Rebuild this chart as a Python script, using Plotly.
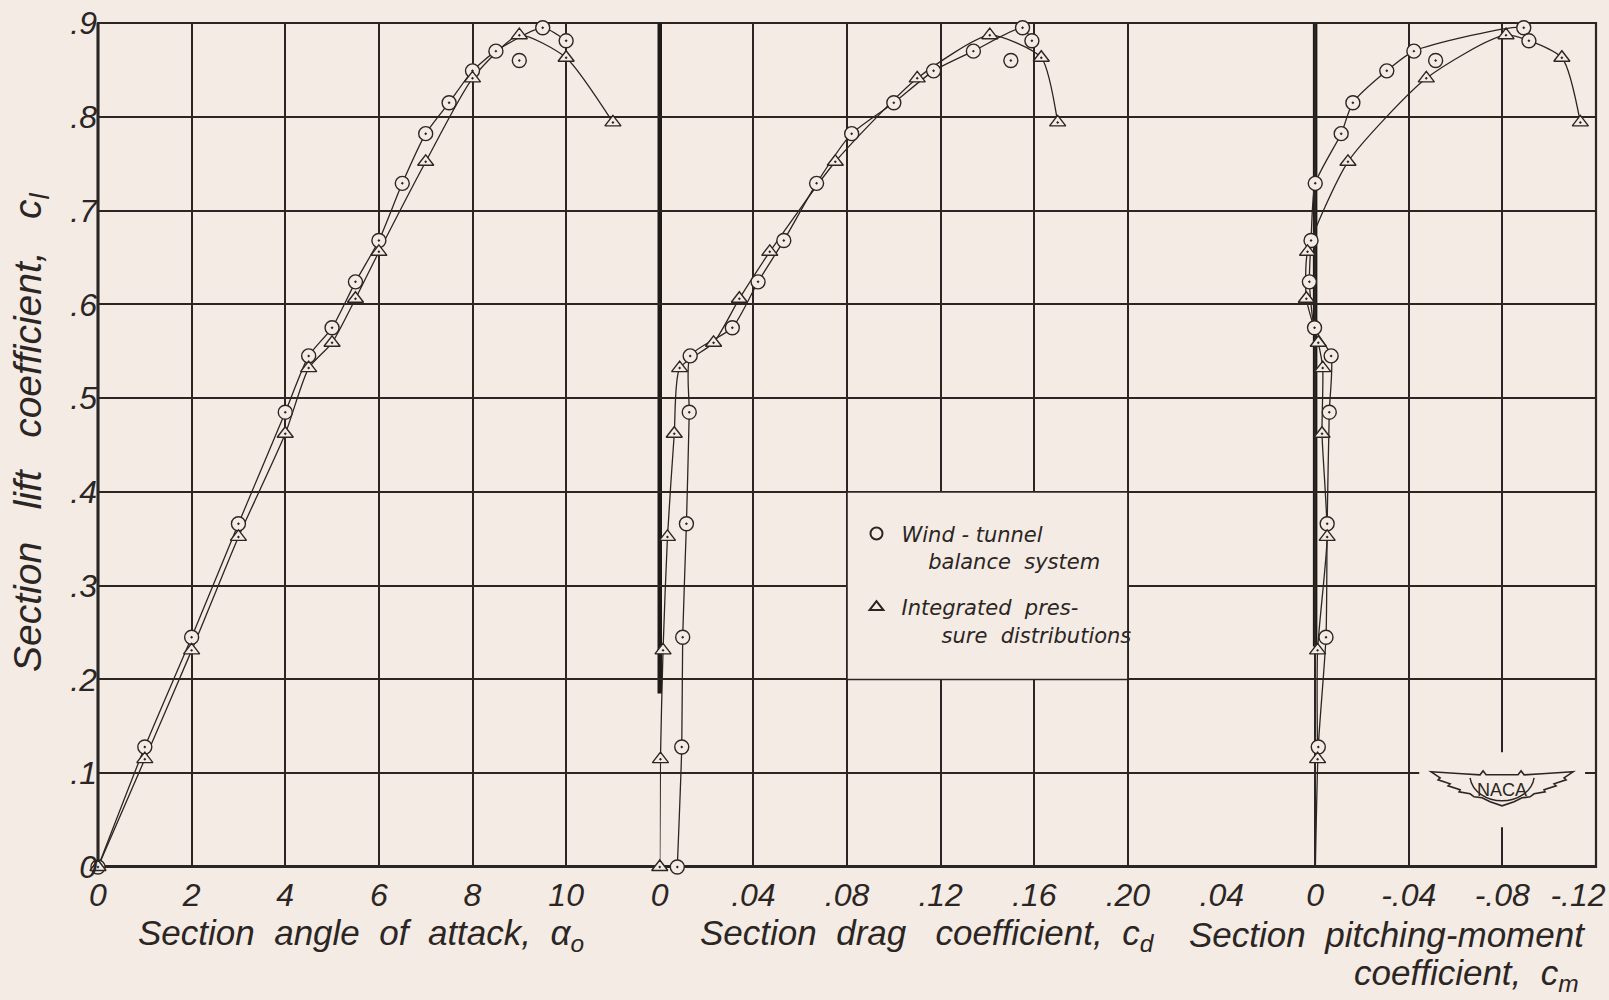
import plotly.graph_objects as go

# ---------------- data ----------------
# Wind-tunnel balance system (circles)
alpha_bal = [0, 1, 2, 3, 4, 4.5, 5, 5.5, 6, 6.5, 7, 7.5, 8, 8.5, 9, 9.5, 10]
cl_bal = [0.0, 0.128, 0.245, 0.366, 0.485, 0.545, 0.575, 0.624, 0.668, 0.729,
          0.782, 0.815, 0.849, 0.870, 0.860, 0.895, 0.881]
cd_bal = [0.0075, 0.0094, 0.0098, 0.0114, 0.0126, 0.0130, 0.031, 0.042, 0.053,
          0.067, 0.082, 0.100, 0.117, 0.134, 0.150, 0.155, 0.159]
cl_bal_cm = [-0.009, 0.128, 0.245, 0.366, 0.485, 0.545, 0.575, 0.624, 0.668, 0.729,
             0.782, 0.815, 0.849, 0.870, 0.860, 0.895, 0.881]
cm_bal = [0.0, -0.0013, -0.0046, -0.0051, -0.0060, -0.0068, 0.0003, 0.0025, 0.0018,
          0.0, -0.0111, -0.0161, -0.0306, -0.0422, -0.0515, -0.0892, -0.0914]
bal_unfaired_alpha = [9]          # point left off the faired curve

# Integrated pressure distributions (triangles)
alpha_prs = [0, 1, 2, 3, 4, 4.5, 5, 5.5, 6, 7, 8, 9, 10, 11]
cl_prs = [0.0, 0.115, 0.231, 0.352, 0.462, 0.532, 0.559, 0.606, 0.656, 0.752,
          0.841, 0.887, 0.863, 0.794]
cd_prs = [0.0, 0.0003, 0.0014, 0.0033, 0.0062, 0.0085, 0.023, 0.034, 0.047, 0.075,
          0.110, 0.141, 0.163, 0.170]
cm_prs = [None, -0.001, -0.001, -0.0051, -0.0029, -0.0032, -0.0013, 0.0038, 0.0033,
          -0.014, -0.0475, -0.0816, -0.1055, -0.1134]

# axis ticks
alpha_ticks = [0, 2, 4, 6, 8, 10, 12]
alpha_labels = ["0", "2", "4", "6", "8", "10", ""]
cd_ticks = [0, 0.04, 0.08, 0.12, 0.16, 0.20, 0.24]
cd_labels = ["0", ".04", ".08", ".12", ".16", ".20", ""]
cm_ticks = [0.04, 0, -0.04, -0.08, -0.12]
cm_labels = [".04", "0", "-.04", "-.08", "-.12&nbsp;&nbsp;&nbsp;&nbsp;"]
cl_ticks = [0, 0.1, 0.2, 0.3, 0.4, 0.5, 0.6, 0.7, 0.8, 0.9]
cl_labels = ["0", ".1", ".2", ".3", ".4", ".5", ".6", ".7", ".8", ".9"]

# heavy reference lines (paper x of panel edge, lower cl end)
heavy_lines = [(6 / 16, 0.185), (13 / 16, 0.235)]
# legend panel (drag-axis cells, lift range)
legend_cell = dict(x0=0.08, x1=0.20, y0=0.2, y1=0.4)

# ---------------- styling ----------------
PAPER = "#f4ebe4"
INK = "#2b2623"
FONT = "Liberation Sans"
LFONT = "DejaVu Sans"

fig = go.Figure()


def faired(xs, ys, alphas, skip):
    px, py = [], []
    for x, y, a in zip(xs, ys, alphas):
        if x is None or a in skip:
            continue
        px.append(x)
        py.append(y)
    return px, py


panels = [
    ("x", "y", alpha_bal, alpha_prs, cl_bal, alpha_bal, cl_prs, alpha_prs),
    ("x2", "y2", cd_bal, cd_prs, cl_bal, alpha_bal, cl_prs, alpha_prs),
    ("x3", "y3", cm_bal, cm_prs, cl_bal_cm, alpha_bal, cl_prs, alpha_prs),
]

for xa, ya, xb, xp, yb, ab, yp, ap in panels:
    fx, fy = faired(xb, yb, ab, bal_unfaired_alpha)
    fig.add_trace(go.Scatter(x=fx, y=fy, xaxis=xa, yaxis=ya, mode="lines",
                             line=dict(color=INK, width=1.3, shape="spline", smoothing=0.6),
                             showlegend=False, hoverinfo="skip", cliponaxis=False))
    gx, gy = faired(xp, yp, ap, [])
    fig.add_trace(go.Scatter(x=gx, y=gy, xaxis=xa, yaxis=ya, mode="lines",
                             line=dict(color=INK, width=1.3, shape="spline", smoothing=0.6),
                             showlegend=False, hoverinfo="skip", cliponaxis=False))
    fig.add_trace(go.Scatter(x=xb, y=yb, xaxis=xa, yaxis=ya, mode="markers",
                             marker=dict(symbol="circle-dot", size=14, color=PAPER,
                                         line=dict(color=INK, width=1.4)),
                             showlegend=False, cliponaxis=False))
    fig.add_trace(go.Scatter(x=xp, y=yp, xaxis=xa, yaxis=ya, mode="markers",
                             marker=dict(symbol="triangle-up-dot", size=14, color=PAPER,
                                         line=dict(color=INK, width=1.4)),
                             showlegend=False, cliponaxis=False))

# legend entries
fig.add_trace(go.Scatter(x=[None], y=[None], mode="markers", legendgroup="a",
                         name="Wind - tunnel<br>&nbsp;&nbsp;&nbsp;&nbsp;balance&nbsp;&nbsp;system",
                         marker=dict(symbol="circle-open", size=12, color=INK, line=dict(width=1.5))))
fig.add_trace(go.Scatter(x=[None], y=[None], mode="markers", legendgroup="b",
                         name="Integrated&nbsp;&nbsp;pres-<br>&nbsp;&nbsp;&nbsp;&nbsp;&nbsp;&nbsp;sure&nbsp;&nbsp;distributions",
                         marker=dict(symbol="triangle-up-open", size=12, color=INK, line=dict(width=1.5))))

tickfont = dict(family=FONT, size=32, color=INK, style="italic")
xcommon = dict(showgrid=True, gridcolor=INK, gridwidth=1.5, zeroline=False,
               showline=False, ticks="", tickfont=tickfont, tickmode="array",
               ticklabelstandoff=6, ticklabeloverflow="allow", automargin=False)
ycommon = dict(range=[0, 0.9], showgrid=True, gridcolor=INK, gridwidth=1.7,
               zeroline=False, showline=False, ticks="", tickmode="array",
               tickvals=cl_ticks, automargin=False)

fig.update_layout(
    width=1609, height=1000, autosize=False,
    margin=dict(l=98, r=13, t=23, b=133, autoexpand=False),
    paper_bgcolor=PAPER, plot_bgcolor=PAPER,
    xaxis=dict(domain=[0, 6 / 16], range=[0, 12], tickvals=alpha_ticks,
               ticktext=alpha_labels, anchor="y", **xcommon),
    xaxis2=dict(domain=[6 / 16, 12 / 16], range=[0, 0.24], tickvals=cd_ticks,
                ticktext=cd_labels, anchor="y2", **xcommon),
    xaxis3=dict(domain=[12 / 16, 1], range=[0.0401, -0.1201], tickvals=cm_ticks,
                ticktext=cm_labels, anchor="y3", **xcommon),
    yaxis=dict(anchor="x", ticktext=cl_labels, tickfont=tickfont, **ycommon),
    yaxis2=dict(anchor="x2", matches="y", showticklabels=False, **ycommon),
    yaxis3=dict(anchor="x3", matches="y", showticklabels=False, **ycommon),
    legend=dict(x=0.503, y=0.419, xanchor="left", yanchor="top",
                bgcolor="rgba(0,0,0,0)", borderwidth=0, valign="top",
                font=dict(family=LFONT, size=21, color=INK, style="italic"),
                itemsizing="constant", tracegroupgap=16, itemwidth=40),
    showlegend=True,
)

shapes = []
# outer frame
shapes.append(dict(type="rect", xref="paper", yref="paper", x0=0, x1=1, y0=0, y1=1,
                   line=dict(color=INK, width=2.2), layer="below"))
shapes.append(dict(type="line", xref="paper", yref="paper", x0=0, x1=0, y0=0, y1=1,
                   line=dict(color=INK, width=3), layer="below"))
# heavy zero-lift baseline
shapes.append(dict(type="line", xref="paper", yref="y", x0=0, x1=1, y0=0, y1=0,
                   line=dict(color=INK, width=4), layer="below"))
for xp_, ylo in heavy_lines:
    shapes.append(dict(type="line", xref="paper", yref="y", x0=xp_, x1=xp_, y0=ylo, y1=0.9,
                       line=dict(color="#1e1a18", width=4.5), layer="below"))
# blank panel holding the legend (interior grid lines removed)
shapes.append(dict(type="rect", xref="x2", yref="y2", line=dict(color=INK, width=1.6),
                   fillcolor=PAPER, layer="above", **legend_cell))
# blank patch behind NACA emblem
shapes.append(dict(type="rect", xref="paper", yref="paper", x0=0.882, x1=0.9927,
                   y0=0.047, y1=0.136, line=dict(width=0), fillcolor=PAPER, layer="above"))
# NACA wings emblem
wing = ("M -71,15 L -40,13 L -22,12 L -19,16 L -16,12 L 16,12 L 19,16 L 22,12 L 40,13 L 71,15 "
        "L 62,9 L 64,7 L 52,3 L 54,1 L 42,-3 L 43,-5 L 32,-7 L 28,-10 L 20,-11 L 12,-15 L 0,-19 "
        "L -12,-15 L -20,-11 L -28,-10 L -32,-7 L -43,-5 L -42,-3 L -54,1 L -52,3 L -64,7 L -62,9 Z")
shapes.append(dict(type="path", xref="paper", yref="paper", xsizemode="pixel", ysizemode="pixel",
                   xanchor=0.9373, yanchor=0.095, path=wing,
                   line=dict(color=INK, width=1.6), fillcolor=PAPER, layer="above"))
shapes.append(dict(type="path", xref="paper", yref="paper", xsizemode="pixel", ysizemode="pixel",
                   xanchor=0.9373, yanchor=0.095,
                   path="M -32,9 C -30,-5 -15,-14 0,-14 C 15,-14 30,-5 32,9",
                   line=dict(color=INK, width=1.4), layer="above"))
fig.update_layout(shapes=shapes)

title_font = dict(family=FONT, size=35, color=INK, style="italic")
ann = [
    dict(text="Section&nbsp; angle&nbsp; of&nbsp; attack,&nbsp; α<sub>o</sub>", x=0.1755, y=-0.08,
         xanchor="center", yanchor="middle"),
    dict(text="Section&nbsp; drag&nbsp;&nbsp; coefficient,&nbsp; c<sub>d</sub>", x=0.554, y=-0.08,
         xanchor="center", yanchor="middle"),
    dict(text="Section&nbsp; pitching-moment", x=0.994, y=-0.08, xanchor="right", yanchor="middle"),
    dict(text="coefficient,&nbsp; c<sub>m</sub>", x=0.99, y=-0.128, xanchor="right", yanchor="middle"),
]
annotations = []
for a in ann:
    a.update(xref="paper", yref="paper", showarrow=False, font=title_font)
    annotations.append(a)
annotations.append(dict(text="Section&nbsp;&nbsp; lift&nbsp;&nbsp; coefficient,&nbsp;&nbsp; c<sub>l</sub>",
                        x=-0.045, y=0.515, xref="paper", yref="paper", textangle=-90,
                        showarrow=False, xanchor="center", yanchor="middle",
                        font=dict(family=FONT, size=39, color=INK, style="italic")))
annotations.append(dict(text="NACA", x=0.9373, y=0.091, xref="paper", yref="paper",
                        showarrow=False, xanchor="center", yanchor="middle",
                        font=dict(family=FONT, size=18, color=INK)))
fig.update_layout(annotations=annotations)

fig.write_html("out.html", config={"displayModeBar": False},
               post_script="document.body.style.margin='0px';")
